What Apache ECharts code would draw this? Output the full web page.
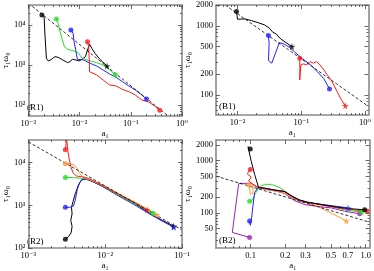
<!DOCTYPE html>
<html><head><meta charset="utf-8">
<script src="https://cdn.jsdelivr.net/npm/echarts@6/dist/echarts.min.js"></script>
<style>html,body{margin:0;padding:0;background:#fff}#c{width:374px;height:271px}</style>
</head><body><div id="c"></div>
<script>
// ---------------- DATA (a1, tau1*omega0) ----------------
// Panel R1
const R1_xRange = [0.001, 1];
const R1_yRange = [53, 31600];
const R1_xTicks = [0.001, 0.01, 0.1, 1];
const R1_yTicks = [100, 1000, 10000];
const R1_dashed = [[0.001, 35000], [1, 28]];
const R1_black = [[1.84e-3,17780],[2.03e-3,15550],[2.12e-3,5110],[2.25e-3,1468],[2.45e-3,1259],[2.84e-3,1386],[3.28e-3,1616],[3.80e-3,1555],[4.71e-3,1334],[5.85e-3,1143],[6.47e-3,1212],[7.28e-3,1386],[8.41e-3,1334],[9.71e-3,1259],[1.12e-2,1386],[1.30e-2,1616],[1.43e-2,2371],[1.57e-2,3286],[1.73e-2,2610],[2.00e-2,1957],[2.49e-2,1386],[3.43e-2,944]];
const R1_green = [[3.52e-3,14130],[3.80e-3,11010],[4.07e-3,7500],[4.51e-3,4640],[5.06e-3,2873],[5.85e-3,2464],[7.82e-3,2239],[9.71e-3,1957],[1.07e-2,1555],[1.30e-2,1386],[1.61e-2,1259],[2.15e-2,1143],[2.88e-2,1000],[3.85e-2,750],[4.99e-2,562]];
const R1_blue = [[6.76e-3,7500],[7.48e-3,6190],[7.82e-3,3830],[8.41e-3,2371],[9.04e-3,1386],[1.21e-2,1334],[1.61e-2,1101],[2.15e-2,944],[2.88e-2,750],[3.85e-2,596],[5.14e-2,492],[6.85e-2,383],[9.16e-2,299],[0.1225,237],[0.164,178],[0.203,141]];
const R1_red = [[1.43e-2,3830],[1.50e-2,2873],[1.55e-2,1334],[1.57e-2,681],[2.15e-2,562],[2.88e-2,422],[3.85e-2,316],[5.14e-2,299],[6.85e-2,246],[9.16e-2,215],[0.1225,178],[0.164,133],[0.219,121],[0.292,94.4],[0.368,73.6]];

// Panel B1
const B1_xRange = [0.0046, 1.13];
const B1_yRange = [51, 2010];
const B1_xTicks = [0.01, 0.1, 1];
const B1_yTicks = [100, 200, 500, 1000, 2000];
const B1_dashed = [[0.0064, 2010], [1.13, 68]];
const B1_black = [[9.64e-3,1614],[0.01,1250],[0.013,1263],[0.0165,1195],[0.0209,1117],[0.0265,1034],[0.0317,925],[0.0357,810],[0.0403,766],[0.0481,641],[0.0575,573],[0.0713,502]];
const B1_blue = [[0.0306,724],[0.0313,561],[0.0306,315],[0.0344,288],[0.0403,425],[0.0453,573],[0.0542,542],[0.0647,491],[0.0774,425],[0.0925,367],[0.1107,321],[0.140,272],[0.178,218],[0.226,171],[0.277,122]];
const B1_red = [[0.0948,340],[0.0948,165],[0.0982,272],[0.108,281],[0.1216,272],[0.137,304],[0.1545,288],[0.174,304],[0.196,272],[0.226,230],[0.255,195],[0.304,156],[0.364,112],[0.42,86.5],[0.49,69.3]];

// Panel R2
const R2_xRange = [0.001, 0.1];
const R2_yRange = [100, 34000];
const R2_xTicks = [0.001, 0.01, 0.1];
const R2_yTicks = [100, 1000, 10000];
const R2_dashed = [[0.001, 30700], [0.1, 265]];
const R2_red = [[3.03e-3,20200],[3.15e-3,36000],[3.27e-3,18500],[3.44e-3,10900],[3.60e-3,7670],[3.86e-3,5600],[4.25e-3,4870],[4.90e-3,4700],[5.66e-3,4460],[6.35e-3,4150],[9.16e-3,2920],[1.49e-2,1820],[2.40e-2,1172],[3.53e-2,782]];
const R2_orange = [[3.03e-3,9480],[3.50e-3,9480],[3.93e-3,8850],[4.32e-3,7410],[4.67e-3,5600],[5.14e-3,4530],[5.94e-3,4150],[9.16e-3,3030],[1.49e-2,1880],[2.40e-2,1213],[3.89e-2,755],[4.72e-2,601]];
const R2_green = [[3.03e-3,4530],[3.86e-3,4460],[5.14e-3,4300],[6.24e-3,4080],[9.16e-3,2870],[1.49e-2,1754],[2.40e-2,1112],[4.20e-2,656]];
const R2_blue = [[3.03e-3,900],[3.44e-3,900],[3.86e-3,966],[4.08e-3,1324],[4.32e-3,2324],[4.67e-3,3480],[5.14e-3,4150],[6.24e-3,3940],[9.16e-3,2770],[1.49e-2,1664],[2.40e-2,1036],[4.29e-2,550],[7.78e-2,308]];
const R2_black = [[3.03e-3,161],[3.33e-3,185],[3.60e-3,228],[3.71e-3,324],[3.56e-3,446],[3.71e-3,634],[3.64e-3,900],[3.86e-3,1324],[4.08e-3,1880],[4.46e-3,2920],[4.90e-3,3940],[5.66e-3,4150],[9.16e-3,2920],[1.49e-2,1786],[2.40e-2,1112],[4.29e-2,570],[7.78e-2,324]];

// Panel B2
const B2_xRange = [0.05, 1.08];
const B2_yRange = [21, 2500];
const B2_xTicks = [0.1, 0.2, 0.3, 0.5, 0.7, 1.0];
const B2_yTicks = [20, 50, 100, 200, 500, 1000, 2000];
const B2_dashed = [[0.05, 506], [1.08, 66]];
const B2_black = [[0.0993,1683],[0.0948,1862],[0.1013,971],[0.1083,545],[0.1174,305],[0.1323,297],[0.1617,272],[0.1976,256],[0.2258,212],[0.2668,176],[0.3152,159],[0.3851,148],[0.4706,137],[0.5745,128],[0.702,121],[0.980,114]];
const B2_red = [[0.0993,676],[0.0935,560],[0.1013,485],[0.0961,407],[0.1048,352],[0.1158,314],[0.1323,292],[0.1617,275],[0.1976,253],[0.2258,206],[0.2668,171],[0.3152,157],[0.3851,144],[0.4706,134],[0.5745,124],[0.702,117],[1.034,107]];
const B2_orange = [[0.0967,343],[0.0993,228],[0.1048,235],[0.1048,352],[0.112,314],[0.1323,284],[0.1617,264],[0.1976,238],[0.2413,184],[0.2950,159],[0.3851,132],[0.503,98.6],[0.679,69.7]];
const B2_green = [[0.098,166],[0.1034,176],[0.1098,235],[0.1197,314],[0.1323,352],[0.1512,352],[0.1788,305],[0.2112,235],[0.2496,181],[0.2950,161],[0.3851,148],[0.503,132],[0.657,114],[0.917,103]];
const B2_blue = [[0.098,69.7],[0.0993,57.7],[0.1013,69.7],[0.1048,137],[0.1083,245],[0.1158,305],[0.1323,297],[0.1617,275],[0.1976,256],[0.2258,212],[0.2668,176],[0.3152,159],[0.3851,148],[0.4706,140],[0.5745,132],[0.702,124]];
const B2_purple = [[0.098,33.7],[0.0693,42.0],[0.0787,363],[0.0858,368],[0.1013,368],[0.112,314],[0.1323,284],[0.1617,264],[0.1976,235],[0.2413,171],[0.2950,144],[0.3851,132],[0.503,124],[0.657,107],[0.887,95.8]];

// ---------------- RENDERING ----------------
const FONT = '"Liberation Serif","DejaVu Serif","Times New Roman",serif';
const C = {black:'#000000', green:'#22e022', blue:'#2222ff', red:'#ff1a1a', orange:'#ff9933', purple:'#a020c0'};
const STAR = 'path://M50,0 L61,35 L98,35 L68,57 L79,91 L50,70 L21,91 L32,57 L2,35 L39,35 Z';
const SUP = {'-':'\u207B','0':'\u2070','1':'\u00B9','2':'\u00B2','3':'\u00B3','4':'\u2074','5':'\u2075'};
function decLabel(v){ const e = Math.round(Math.log10(v)); return '10' + String(e).split('').map(c => SUP[c]).join(''); }
function plainLabel(v){ return String(v); }
function fixed1(v){ return v.toFixed(1); }
function minorTicks(range, majors){
  const out = [];
  for (let e = -4; e <= 5; e++) for (let m = 1; m <= 9; m++) {
    const v = +(m * Math.pow(10, e)).toPrecision(6);
    if (v > range[0] && v < range[1] && !majors.some(t => Math.abs(t - v) / v < 1e-6)) out.push(v);
  }
  return out;
}

const panels = [
  {label:'(R1)', grid:{left:24, top:5, width:158, height:111}, xr:R1_xRange, yr:R1_yRange, xt:R1_xTicks, yt:R1_yTicks, xf:decLabel, yf:decLabel, yGap:11, dashed:R1_dashed,
   curves:[{d:R1_black,c:C.black,s:'dot',e:'star'},{d:R1_green,c:C.green,s:'dot',e:'dot'},{d:R1_blue,c:C.blue,s:'dot',e:'dot'},{d:R1_red,c:C.red,s:'dot',e:'dot'}]},
  {label:'(B1)', grid:{left:216, top:5, width:154, height:110}, xr:B1_xRange, yr:B1_yRange, xt:B1_xTicks, yt:B1_yTicks, xf:decLabel, yf:plainLabel, yGap:24, dashed:B1_dashed,
   curves:[{d:B1_black,c:C.black,s:'dot',e:'star'},{d:B1_blue,c:C.blue,s:'dot',e:'dot'},{d:B1_red,c:C.red,s:'dot',e:'star'}]},
  {label:'(R2)', grid:{left:24, top:140, width:158, height:110}, xr:R2_xRange, yr:R2_yRange, xt:R2_xTicks, yt:R2_yTicks, xf:decLabel, yf:decLabel, yGap:11, dashed:R2_dashed,
   curves:[{d:R2_black,c:C.black,s:'dot',e:'star'},{d:R2_blue,c:C.blue,s:'dot',e:'star'},{d:R2_green,c:C.green,s:'dot',e:'dot'},{d:R2_orange,c:C.orange,s:'dot',e:'star'},{d:R2_red,c:C.red,s:'dot',e:'star'}]},
  {label:'(B2)', grid:{left:216, top:140, width:154, height:109}, xr:B2_xRange, yr:B2_yRange, xt:B2_xTicks, yt:B2_yTicks, xf:fixed1, yf:plainLabel, yGap:24, dashed:B2_dashed,
   curves:[{d:B2_purple,c:C.purple,s:'dot',e:'dot'},{d:B2_orange,c:C.orange,s:'dot',e:'star'},{d:B2_green,c:C.green,s:'dot',e:'dot'},{d:B2_blue,c:C.blue,s:'dot',e:'star'},{d:B2_red,c:C.red,s:'dot',e:'dot'},{d:B2_black,c:C.black,s:'dot',e:'dot'}]}
];

const grids = [], xAxes = [], yAxes = [], series = [], graphics = [];
const AXC = '#8a8a8a';
const textStyle = {fontFamily: FONT, color: '#000', fontSize: 8.5};

panels.forEach((p, gi) => {
  grids.push(Object.assign({containLabel:false}, p.grid));
  const xMinor = minorTicks(p.xr, p.xt), yMinor = minorTicks(p.yr, p.yt);
  const mk = (isX, pos, ticks, len, withLabel, fmt, showLine) => {
    const ax = {
      type:'log', logBase:10, gridIndex:gi, position:pos,
      min: isX ? p.xr[0] : p.yr[0], max: isX ? p.xr[1] : p.yr[1],
      axisLine:{show:showLine, onZero:false, lineStyle:{color:AXC, width:1.6}},
      axisTick:{show:true, inside:true, length:len, customValues:ticks, lineStyle:{color:'#444', width:0.8}},
      splitLine:{show:false}, minorTick:{show:false}, minorSplitLine:{show:false},
      axisLabel: withLabel ? Object.assign({show:true, customValues:ticks, margin:3, formatter:fmt, hideOverlap:false}, textStyle) : {show:false},
      silent:true, z:5
    };
    if (withLabel) {
      if (isX) Object.assign(ax, {name:'a\u2081', nameLocation:'middle', nameGap:10, nameTextStyle:Object.assign({}, textStyle, {fontSize:9})});
      else Object.assign(ax, {name:'\u03C4\u2081\u03C9\u2080', nameLocation:'middle', nameGap:p.yGap, nameRotate:90, nameTextStyle:Object.assign({}, textStyle, {fontSize:9})});
    }
    return ax;
  };
  xAxes.push(mk(true,'bottom',p.xt,4,true,p.xf,true), mk(true,'bottom',xMinor,2,false,null,false), mk(true,'top',p.xt,4,false,null,true), mk(true,'top',xMinor,2,false,null,false));
  yAxes.push(mk(false,'left',p.yt,4,true,p.yf,true), mk(false,'left',yMinor,2,false,null,false), mk(false,'right',p.yt,4,false,null,true), mk(false,'right',yMinor,2,false,null,false));
  const ai = gi * 4;
  series.push({type:'line', xAxisIndex:ai, yAxisIndex:ai, data:p.dashed, showSymbol:false, silent:true, animation:false, clip:true,
               lineStyle:{color:'#000', width:0.8, type:[3,2]}, z:3});
  p.curves.forEach(cv => {
    series.push({type:'line', xAxisIndex:ai, yAxisIndex:ai, data:cv.d, showSymbol:false, silent:true, animation:false, clip:true,
                 lineStyle:{color:cv.c, width:1}, z:2});
    const first = cv.d[0], last = cv.d[cv.d.length - 1];
    [[first, cv.s], [last, cv.e]].forEach(([pt, kind]) => {
      series.push({type:'scatter', xAxisIndex:ai, yAxisIndex:ai, data:[pt], silent:true, animation:false,
                   symbol: kind === 'star' ? STAR : 'circle', symbolSize: kind === 'star' ? 7 : 5,
                   itemStyle:{color:cv.c}, z:4});
    });
  });
  graphics.push({type:'text', left:p.grid.left + 3, top:p.grid.top + p.grid.height - 13, silent:true,
                 style:{text:p.label, font:'9px ' + FONT, fill:'#000'}});
});

const chart = echarts.init(document.getElementById('c'), null, {renderer:'canvas'});
chart.setOption({animation:false, backgroundColor:'#fff', grid:grids, xAxis:xAxes, yAxis:yAxes, series:series, graphic:graphics});
</script></body></html>
